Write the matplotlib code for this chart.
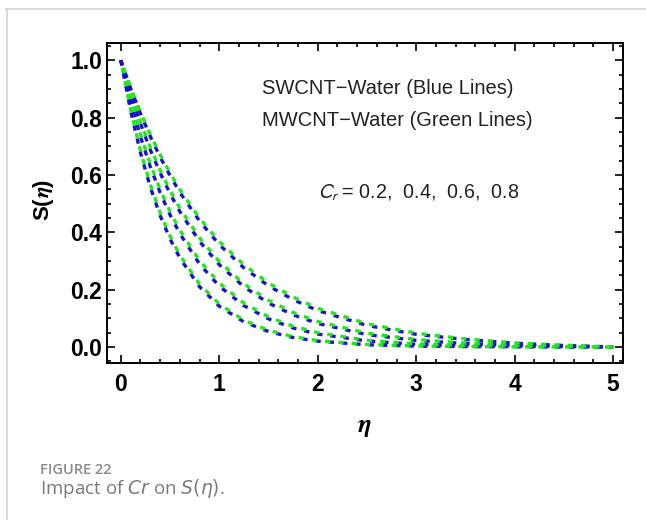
import matplotlib
matplotlib.use('Agg')
import matplotlib.pyplot as plt
from matplotlib.lines import Line2D
from matplotlib.ticker import MultipleLocator

# eta grid and S(eta), one curve per Cr value
eta = [0, 0.1, 0.2, 0.3, 0.4, 0.5, 0.6, 0.8, 1.0, 1.25, 1.5, 1.75, 2.0, 2.5, 3.0, 3.5, 4.0, 4.5, 5.0]

# SWCNT-Water (blue), fastest to slowest decay
s_blue = [
    [1, 0.823, 0.677, 0.557, 0.458, 0.377, 0.310, 0.210, 0.142, 0.0874, 0.0537, 0.033, 0.0202, 0.0076, 0.0029, 0.001, 0.0004, 0.0001, 0],
    [1, 0.856, 0.733, 0.628, 0.538, 0.461, 0.395, 0.289, 0.212, 0.144, 0.098, 0.066, 0.045, 0.021, 0.0094, 0.0042, 0.0017, 0.0006, 0],
    [1, 0.882, 0.779, 0.687, 0.607, 0.535, 0.472, 0.368, 0.287, 0.210, 0.153, 0.112, 0.082, 0.043, 0.023, 0.0118, 0.0058, 0.0024, 0],
    [1, 0.902, 0.814, 0.734, 0.662, 0.598, 0.539, 0.439, 0.357, 0.276, 0.213, 0.165, 0.127, 0.075, 0.044, 0.026, 0.013, 0.005, 0],
]
# MWCNT-Water (green)
s_green = [
    [1, 0.827, 0.684, 0.566, 0.468, 0.387, 0.320, 0.219, 0.150, 0.093, 0.058, 0.036, 0.022, 0.0087, 0.0033, 0.0012, 0.0004, 0.0001, 0],
    [1, 0.861, 0.741, 0.638, 0.549, 0.472, 0.407, 0.301, 0.223, 0.153, 0.105, 0.072, 0.050, 0.0234, 0.0108, 0.0049, 0.0021, 0.0008, 0],
    [1, 0.886, 0.785, 0.696, 0.616, 0.546, 0.484, 0.380, 0.298, 0.220, 0.163, 0.120, 0.089, 0.048, 0.026, 0.0136, 0.0068, 0.0028, 0],
    [1, 0.905, 0.819, 0.741, 0.670, 0.607, 0.549, 0.449, 0.368, 0.287, 0.223, 0.174, 0.135, 0.081, 0.048, 0.028, 0.014, 0.006, 0],
]

W, H = 646, 520
fig = plt.figure(figsize=(W / 100, H / 100), dpi=100)

# frame of the page (top and left grey rule)
fig.add_artist(Line2D([6 / W, 1], [1 - 9 / H, 1 - 9 / H], color='#d4d4d4', lw=1.2))
fig.add_artist(Line2D([7 / W, 7 / W], [0, 1 - 9 / H], color='#d4d4d4', lw=1.2))

ax = fig.add_axes([107 / W, 1 - 363 / H, (623 - 107) / W, (363 - 43) / H])

for sb, sg in zip(s_blue, s_green):
    ax.plot(eta, sb, color='#1212d0', lw=2.4, ls=(0, (1.6, 2.4)))
    ax.plot(eta, sg, color='#22e622', lw=2.4, ls=(1.6, (1.6, 2.4)))

ax.set_xlim(-0.14, 5.1)
ax.set_ylim(-0.056, 1.06)
ax.xaxis.set_major_locator(MultipleLocator(1))
ax.xaxis.set_minor_locator(MultipleLocator(0.2))
ax.yaxis.set_major_locator(MultipleLocator(0.2))
ax.yaxis.set_minor_locator(MultipleLocator(0.05))
ax.set_yticks([0, 0.2, 0.4, 0.6, 0.8, 1.0])
ax.set_yticklabels(['0.0', '0.2', '0.4', '0.6', '0.8', '1.0'])

for sp in ax.spines.values():
    sp.set_linewidth(1.4)
ax.tick_params(which='both', direction='in', top=True, right=True, width=1.2)
ax.tick_params(which='major', length=5.5)
ax.tick_params(which='minor', length=3)
ax.tick_params(axis='x', which='major', pad=7)
ax.tick_params(axis='y', which='major', pad=3.5)
for lab in ax.get_xticklabels() + ax.get_yticklabels():
    lab.set_fontfamily('Liberation Sans')
    lab.set_fontweight('bold')
    lab.set_fontsize(16.5)

# axis labels
fig.text(43 / W, 1 - 200 / H, r'S($\mathbfit{\eta}$)', rotation=90, ha='center', va='center',
         fontsize=16, fontweight='bold', family='Liberation Sans', math_fontfamily='stixsans')
fig.text(364 / W, 1 - 426 / H, r'$\mathbfit{\eta}$', ha='center', va='center',
         fontsize=19, math_fontfamily='stixsans')

# annotations inside the plot
fig.text(262 / W, 1 - 88 / H, 'SWCNT\u2212Water (Blue Lines)', ha='left', va='center',
         fontsize=14.5, family='Liberation Sans', color='#222222')
fig.text(262 / W, 1 - 120 / H, 'MWCNT\u2212Water (Green Lines)', ha='left', va='center',
         fontsize=14.5, family='Liberation Sans', color='#222222')
fig.text(318 / W, 1 - 193 / H, r'$C_r$ = 0.2,  0.4,  0.6,  0.8', ha='left', va='center',
         fontsize=14.2, family='Liberation Sans', math_fontfamily='stixsans', color='#222222')

# caption
fig.text(40 / W, 1 - 470 / H, 'FIGURE 22', ha='left', va='center',
         fontsize=10.5, family='Open Sans', fontweight='semibold', color='#8a8a8a')
fig.text(40 / W, 1 - 489 / H, r'Impact of $Cr$ on $S(\eta)$.', ha='left', va='center',
         fontsize=13.5, family='Open Sans', math_fontfamily='dejavusans', color='#7a7a7a')

fig.savefig('out.png', dpi=100)
